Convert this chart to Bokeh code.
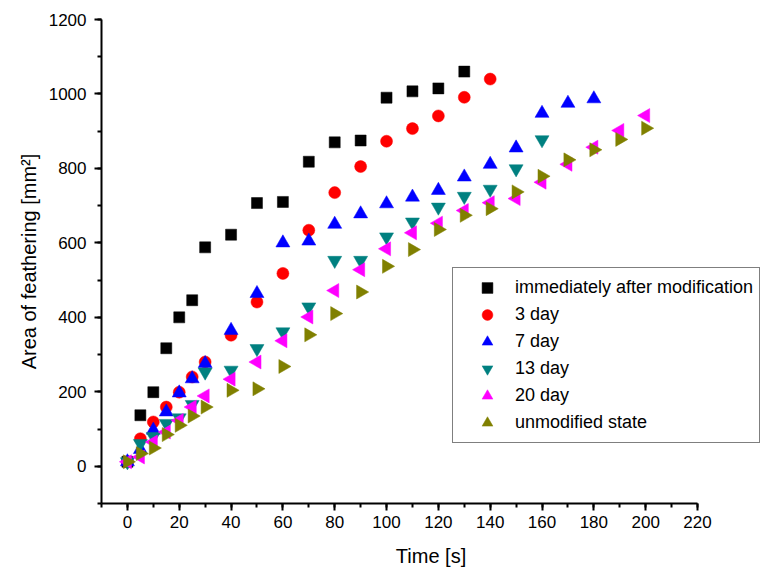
from bokeh.plotting import figure
from bokeh.models import Legend, LegendItem, SingleIntervalTicker, Range1d
from bokeh.embed import file_html
from bokeh.resources import INLINE

# ---- data ----
time_s = [0, 5, 10, 15, 20, 25, 30, 40, 50, 60, 70, 80, 90, 100, 110, 120,
          130, 140, 150, 160, 170, 180, 190, 200]

immediately = [12, 137, 199, 317, 400, 446, 588, 622, 707, 710, 818, 870, 875,
               990, 1007, 1015, 1060]
day3 = [12, 74, 119, 159, 199, 240, 280, 352, 441, 518, 634, 735, 805, 873,
        907, 941, 991, 1040]
day7 = [12, 45, 97, 146, 197, 235, 276, 365, 464, 600, 605, 650, 678, 705,
        723, 741, 777, 811, 855, 948, 975, 987]
day13 = [12, 61, 80, 115, 130, 166, 253, 258, 316, 361, 428, 553, 553, 616,
         656, 696, 725, 744, 799, 877]
day20 = [12, 25, 65, 92, 123, 159, 189, 234, 280, 337, 401, 472, 528, 584,
         627, 653, 687, 708, 719, 763, 811, 857, 902, 942]
unmodified = [12, 34, 49, 85, 110, 135, 159, 204, 208, 268, 353, 410, 468,
              537, 582, 636, 674, 692, 737, 779, 823, 850, 878, 908]

series_labels = ["immediately after modification", "3 day", "7 day",
                 "13 day", "20 day", "unmodified state"]
series_values = [immediately, day3, day7, day13, day20, unmodified]
series_markers = ["square", "circle", "triangle", "inverted_triangle",
                  "triangle", "triangle"]
series_angles = [0, 0, 0, 0, 1.5707963, -1.5707963]
series_colors = ["#000000", "#FF0000", "#0000FF", "#008080", "#FF00FF",
                 "#808000"]
series_sizes = [11, 12, 14, 14, 14, 14]

FONT = "Liberation Sans"

# axis spans -10..220 over 596 px; the frame continues to the right edge so
# the legend can run past the end of the x axis, as in the reference
X_MIN, X_MAX = -10, 220
FRAME_W = 760 - 101
X_END = X_MIN + FRAME_W * (X_MAX - X_MIN) / 596.0

p = figure(width=760, height=571, output_backend="svg", toolbar_location=None,
           x_range=Range1d(X_MIN, X_END), y_range=Range1d(-100, 1200),
           min_border_left=101, min_border_right=0, min_border_top=19,
           min_border_bottom=68)
p.outline_line_color = None
p.xgrid.visible = False
p.ygrid.visible = False
p.background_fill_color = "white"
p.border_fill_color = "white"

p.xaxis.ticker = SingleIntervalTicker(interval=20, num_minor_ticks=2)
p.yaxis.ticker = SingleIntervalTicker(interval=200, num_minor_ticks=2)
p.xaxis.bounds = (X_MIN, X_MAX)
p.xaxis.axis_label = "Time [s]"
p.yaxis.axis_label = "Area of feathering [mm²]"

for ax in (p.xaxis, p.yaxis):
    ax.axis_line_width = 2
    ax.axis_line_color = "black"
    ax.major_tick_line_width = 2
    ax.minor_tick_line_width = 2
    ax.major_tick_line_color = "black"
    ax.minor_tick_line_color = "black"
    ax.major_tick_in = 0
    ax.major_tick_out = 7
    ax.minor_tick_in = 0
    ax.minor_tick_out = 4
    ax.major_label_text_font = FONT
    ax.major_label_text_font_size = "17px"
    ax.major_label_text_color = "black"
    ax.axis_label_text_font = FONT
    ax.axis_label_text_font_size = "20px"
    ax.axis_label_text_font_style = "normal"
    ax.axis_label_text_color = "black"

p.xaxis.major_label_standoff = 5
p.xaxis.axis_label_standoff = 14
p.yaxis.major_label_standoff = 8
p.yaxis.axis_label_standoff = 6

items = []
for lab, vals, mk, ang, col, sz in zip(series_labels, series_values,
                                       series_markers, series_angles,
                                       series_colors, series_sizes):
    r = p.scatter(time_s[:len(vals)], vals, marker=mk, angle=ang, size=sz,
                  fill_color=col, line_color=col, line_width=0.5)
    items.append(LegendItem(label=lab, renderers=[r]))

legend = Legend(items=items, location=(351, 60))
legend.label_text_font = FONT
legend.label_text_font_size = "18px"
legend.label_text_color = "black"
legend.border_line_color = "black"
legend.border_line_width = 1
legend.background_fill_color = "white"
legend.background_fill_alpha = 1
legend.padding = 6
legend.spacing = 0
legend.margin = 0
legend.glyph_width = 56
legend.glyph_height = 27
legend.label_height = 27
legend.label_standoff = 0
p.add_layout(legend, "center")

open("out.html", "w").write(file_html(p, INLINE))
